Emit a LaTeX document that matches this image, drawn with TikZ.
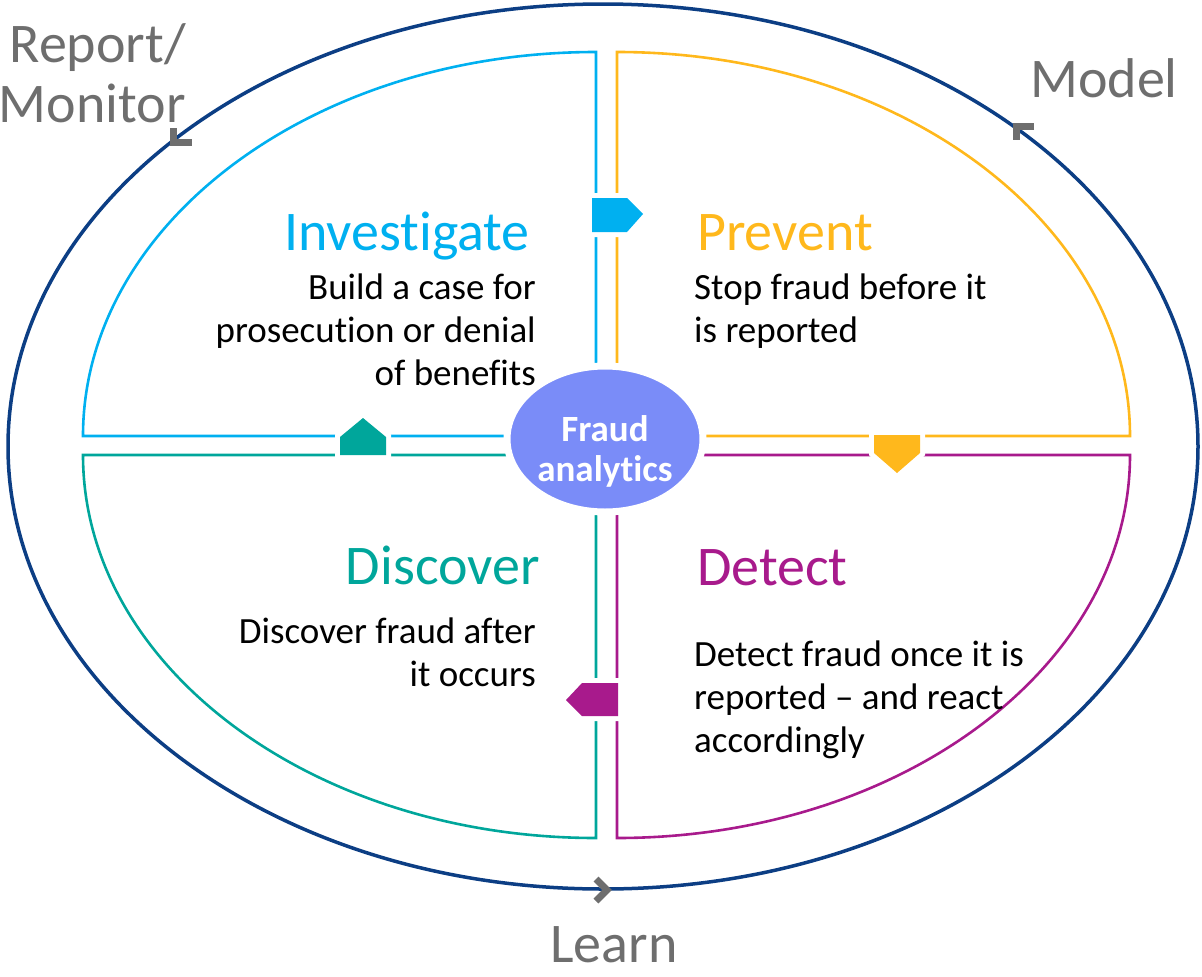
\documentclass[tikz,border=0pt]{standalone}
\usepackage{fontspec}
\setmainfont{Carlito}[Ligatures=NoCommon]
\definecolor{ringblue}{RGB}{12,62,132}
\definecolor{invcyan}{RGB}{0,176,240}
\definecolor{prvorange}{RGB}{255,184,28}
\definecolor{disteal}{RGB}{0,166,155}
\definecolor{detmag}{RGB}{168,26,140}
\definecolor{hubfill}{RGB}{122,140,248}
\definecolor{stagegray}{RGB}{110,110,110}
\tikzset{
  ring/.style={draw=ringblue,line width=3.5pt},
  quad/.style={line width=2.6pt},
  tip/.style={draw=stagegray,line width=7pt,miter limit=10},
  flag/.style={preaction={draw=white,line width=10pt,line join=miter}},
  hub/.style={ellipse,draw=white,line width=7pt,fill=hubfill,minimum width=196pt,minimum height=146pt,inner sep=0pt},
  hubtext/.style={text=white,font=\fontsize{37}{40}\selectfont\bfseries,align=center,inner sep=0pt},
  title/.style={font=\fontsize{56}{60}\selectfont,inner sep=0pt},
  body/.style={font=\fontsize{37}{43}\selectfont,inner sep=0pt,text=black},
  stage/.style={font=\fontsize{56}{60}\selectfont,inner sep=0pt,text=stagegray},
}
\usetikzlibrary{shapes.geometric}
\begin{document}
\begin{tikzpicture}[x=1pt,y=-1pt]
\useasboundingbox (0,0) rectangle (1202,977);

% outer cycle
\draw[ring] (603,446.5) ellipse [x radius=595, y radius=442.5];

% direction marks on the outer cycle
\draw[tip] (173.5,128) -- (173.5,142.5) -- (192,142.5);
\draw[tip] (1034,126.5) -- (1016,126.5) -- (1016,140);
\draw[tip] (596,879) -- (607,890) -- (596,901);

% the four quadrants
\draw[quad,invcyan] (83,436) arc[start angle=180,end angle=270,x radius=513,y radius=384] -- (596,436) -- cycle;
\draw[quad,prvorange] (617,52) arc[start angle=270,end angle=360,x radius=513,y radius=384] -- (617,436) -- cycle;
\draw[quad,disteal] (83,455) arc[start angle=180,end angle=90,x radius=513,y radius=383] -- (596,455) -- cycle;
\draw[quad,detmag] (617,838) arc[start angle=90,end angle=0,x radius=513,y radius=383] -- (617,455) -- cycle;

% flow flags between quadrants
\fill[flag,invcyan] (592,198) -- (627,198) -- (643,214) -- (627,232) -- (592,232) -- cycle;
\fill[flag,prvorange] (874,435) -- (920,435) -- (920,453) -- (897,473) -- (874,453) -- cycle;
\fill[flag,detmag] (618,683) -- (582,683) -- (566,700) -- (582,716) -- (618,716) -- cycle;
\fill[flag,disteal] (340,455) -- (340,437) -- (363,418) -- (386,437) -- (386,455) -- cycle;

% centre (base anchors of multi-line texts sit on the last line)
\node[hub] (hub) at (605,439) {};
\node[hubtext,anchor=base] (hubtxt) at (605,481) {Fraud\\analytics};

% quadrant texts
\node[title,text=invcyan,anchor=base east] (invT) at (530,250) {Investigate};
\node[body,align=right,anchor=base east] (invB) at (536,385) {Build a case for\\prosecution or denial\\of benefits};
\node[title,text=prvorange,anchor=base west] (prvT) at (697,250) {Prevent};
\node[body,align=left,anchor=base west] (prvB) at (694,342) {Stop fraud before it\\is reported};
\node[title,text=disteal,anchor=base east] (disT) at (540,584) {Discover};
\node[body,align=right,anchor=base east] (disB) at (536,686) {Discover fraud after\\it occurs};
\node[title,text=detmag,anchor=base west] (detT) at (697,585) {Detect};
\node[body,align=left,anchor=base west] (detB) at (694,752) {Detect fraud once it is\\reported – and react\\accordingly};

% cycle stages
\node[stage,align=right,anchor=base east] (rep) at (186,122) {Report/\\Monitor};
\node[stage,anchor=base west] (mod) at (1030,97) {Model};
\node[stage,anchor=base] (lrn) at (614,962) {Learn};
\end{tikzpicture}
\end{document}
